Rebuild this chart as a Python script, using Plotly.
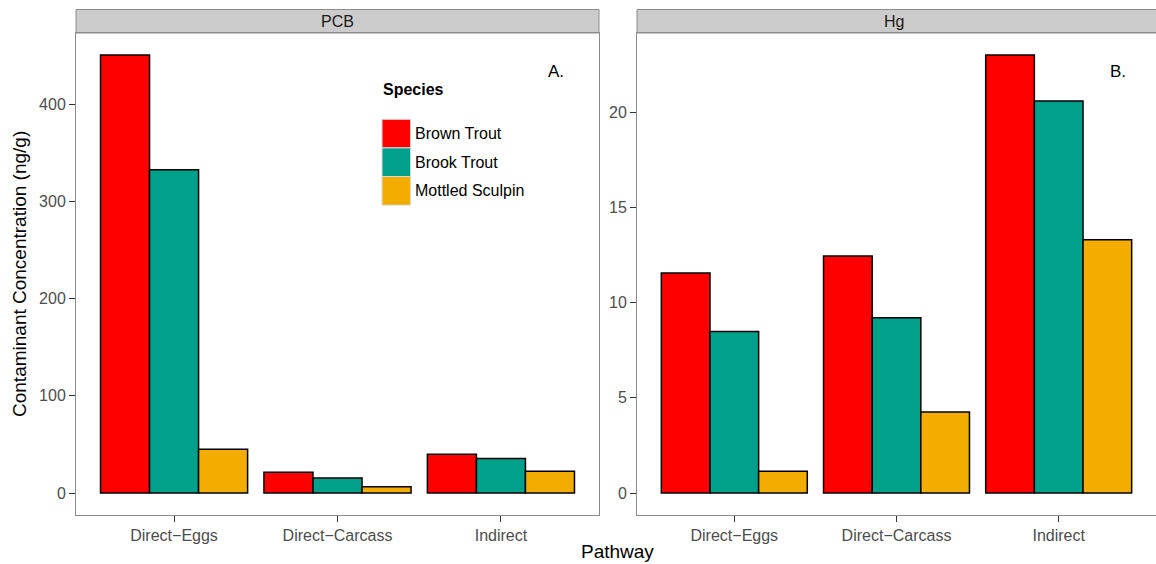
import plotly.graph_objects as go

pathways = ["Direct\u2212Eggs", "Direct\u2212Carcass", "Indirect"]
species = ["Brown Trout", "Brook Trout", "Mottled Sculpin"]
colors = ["#FF0000", "#00A08A", "#F2AD00"]

pcb_brown = [450.5, 21.5, 40.0]
pcb_brook = [332.5, 15.5, 35.5]
pcb_sculpin = [45.0, 6.5, 22.5]

hg_brown = [11.55, 12.45, 23.0]
hg_brook = [8.48, 9.2, 20.58]
hg_sculpin = [1.15, 4.25, 13.3]

pcb = [pcb_brown, pcb_brook, pcb_sculpin]
hg = [hg_brown, hg_brook, hg_sculpin]

W, H = 1156, 564
FONT = "Liberation Sans, Arial, sans-serif"

def px_x(p):
    return p / W

def px_y(p):
    return 1 - p / H

left_dom = [px_x(76), px_x(599)]
right_dom = [px_x(637), 1.0]
y_dom = [px_y(515), px_y(33)]

fig = go.Figure()
for i, sp in enumerate(species):
    fig.add_trace(go.Bar(x=pathways, y=pcb[i], name=sp, marker=dict(color=colors[i], line=dict(color="black", width=1.5)),
                         xaxis="x", yaxis="y", showlegend=False))
    fig.add_trace(go.Bar(x=pathways, y=hg[i], name=sp, marker=dict(color=colors[i], line=dict(color="black", width=1.5)),
                         xaxis="x2", yaxis="y2", showlegend=False))

def yrange(vals):
    m = max(max(v) for v in vals)
    return [-0.05 * m, 1.05 * m]

axis_common = dict(showgrid=False, zeroline=False, showline=True, linecolor="#8C8C8C", linewidth=1, mirror=True,
                   ticks="outside", ticklen=6, tickwidth=1, tickcolor="#333333",
                   tickfont=dict(family=FONT, size=16, color="#4D4D4D"))

fig.update_layout(
    width=W, height=H, margin=dict(l=0, r=0, t=0, b=0),
    paper_bgcolor="white", plot_bgcolor="white",
    barmode="group", bargap=0.1, bargroupgap=0,
    xaxis=dict(domain=left_dom, anchor="y", range=[-0.6, 2.6], **axis_common),
    yaxis=dict(domain=y_dom, anchor="x", range=yrange(pcb), tickvals=[0, 100, 200, 300, 400], **axis_common),
    xaxis2=dict(domain=right_dom, anchor="y2", range=[-0.6, 2.6], **axis_common),
    yaxis2=dict(domain=y_dom, anchor="x2", range=yrange(hg), tickvals=[0, 5, 10, 15, 20], **axis_common),
    font=dict(family=FONT),
)

shapes = []
annotations = []
# facet strips
for dom, label in [(left_dom, "PCB"), (right_dom, "Hg")]:
    shapes.append(dict(type="rect", xref="paper", yref="paper", x0=dom[0], x1=dom[1] + (0.01 if dom[1] >= 1 else 0),
                       y0=px_y(33), y1=px_y(9.5), fillcolor="#CCCCCC", line=dict(color="#8C8C8C", width=1), layer="below"))
    annotations.append(dict(text=label, xref="paper", yref="paper", x=(dom[0] + min(dom[1], px_x(1150))) / 2,
                            y=px_y(21), showarrow=False, font=dict(size=16, color="#1A1A1A"), xanchor="center", yanchor="middle"))

# panel labels
annotations.append(dict(text="A.", xref="paper", yref="paper", x=px_x(556), y=px_y(71), showarrow=False,
                        xanchor="center", yanchor="middle", font=dict(size=17, color="black")))
annotations.append(dict(text="B.", xref="paper", yref="paper", x=px_x(1118), y=px_y(71), showarrow=False,
                        xanchor="center", yanchor="middle", font=dict(size=17, color="black")))

# legend
annotations.append(dict(text="<b>Species</b>", xref="paper", yref="paper", x=px_x(381), y=px_y(90), xanchor="left",
                        yanchor="middle", showarrow=False, font=dict(size=16, color="black")))
key_top, key_size = 119.3, 28.6
for i, sp in enumerate(species):
    t = key_top + i * key_size
    shapes.append(dict(type="rect", xref="paper", yref="paper", x0=px_x(382), x1=px_x(382 + key_size),
                       y0=px_y(t + key_size), y1=px_y(t), fillcolor=colors[i], line=dict(color="#D9D9D9", width=1)))
    annotations.append(dict(text=sp, xref="paper", yref="paper", x=px_x(413), y=px_y(t + key_size / 2), xanchor="left",
                            yanchor="middle", showarrow=False, font=dict(size=16, color="black")))

# axis titles
annotations.append(dict(text="Contaminant Concentration (ng/g)", xref="paper", yref="paper", x=px_x(19), y=px_y(274),
                        textangle=-90, showarrow=False, font=dict(size=19, color="black"), xanchor="center", yanchor="middle"))
annotations.append(dict(text="Pathway", xref="paper", yref="paper", x=px_x(617), y=px_y(551),
                        showarrow=False, font=dict(size=19, color="black"), xanchor="center", yanchor="middle"))

fig.update_layout(shapes=shapes, annotations=annotations)
fig.write_html("out.html")
